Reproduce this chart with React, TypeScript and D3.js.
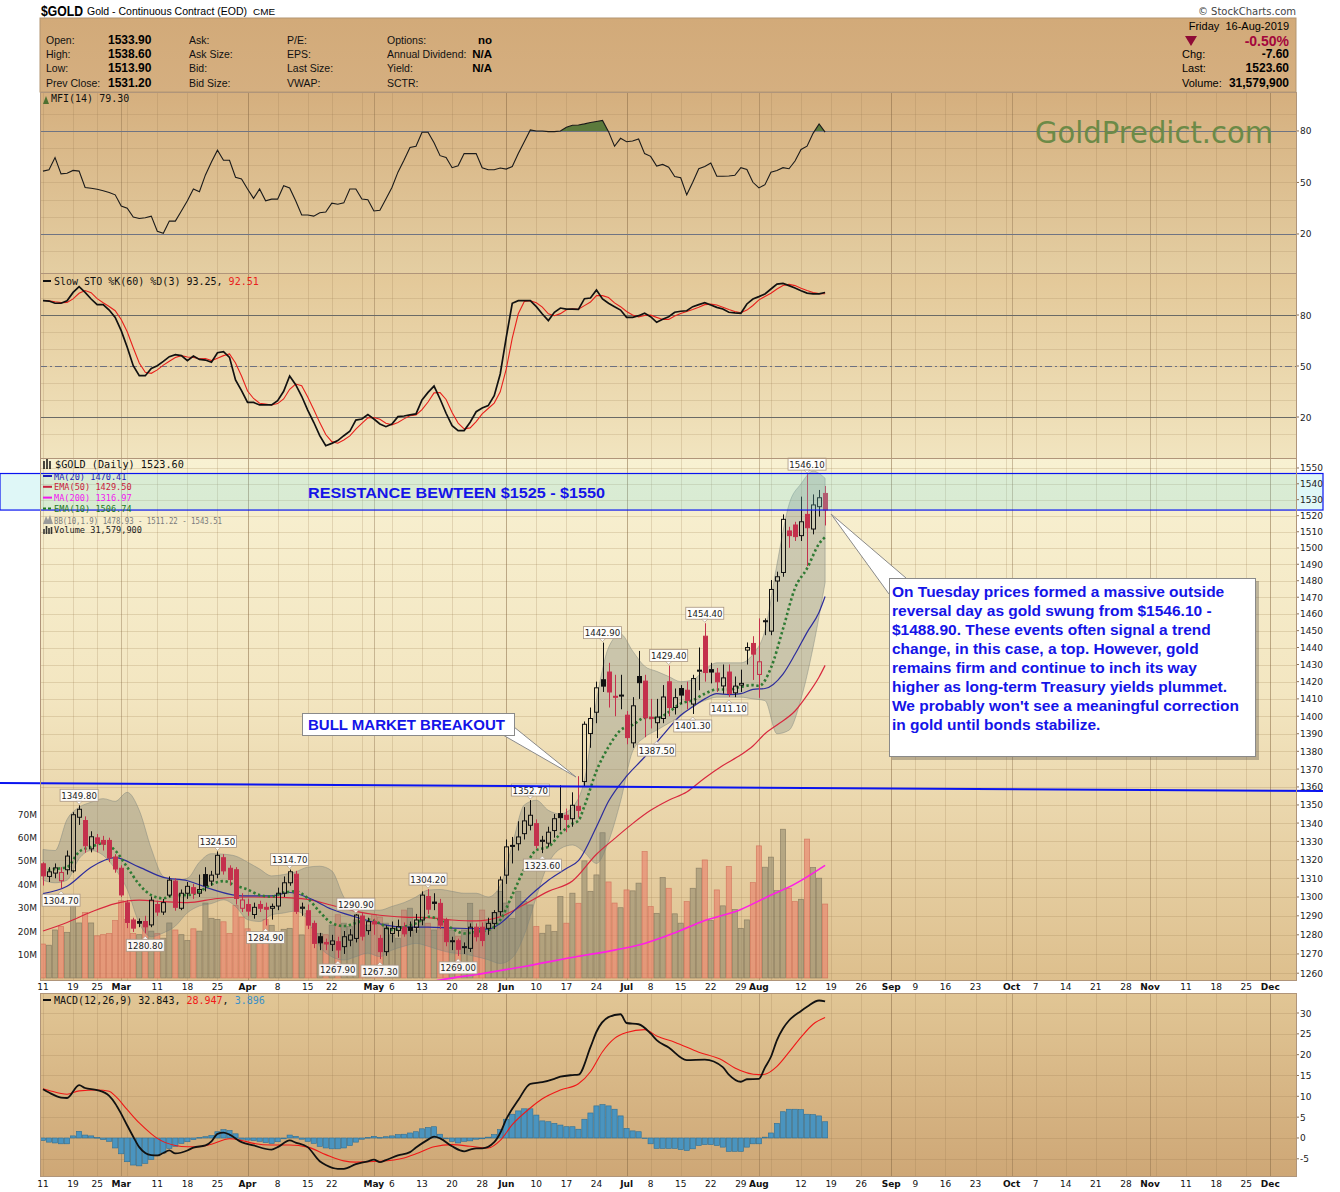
import { useEffect, useRef } from 'react';
import * as d3 from 'd3';

// ---- calendar ----
const FIRST_DAY = '2019-02-11';
const HOLIDAYS = ['2019-02-18', '2019-04-19', '2019-05-27', '2019-07-04', '2019-09-02', '2019-11-28'];

// ---- daily prices, Feb 11 .. Aug 16 2019 ----
const opens = [
  1317.8, 1311.0, 1312.8, 1308.7, 1314.6, 1314.0, 1343.2, 1341.4, 1325.9, 1331.9,
  1330.5, 1330.5, 1321.5, 1315.4, 1296.9, 1287.8, 1287.0, 1287.0, 1285.2, 1296.0,
  1292.0, 1301.0, 1308.5, 1294.0, 1302.0, 1305.0, 1302.0, 1312.0, 1308.5, 1312.2,
  1321.1, 1315.4, 1314.6, 1294.0, 1296.0, 1290.7, 1296.0, 1294.5, 1294.0, 1295.2,
  1302.0, 1307.6, 1312.2, 1294.0, 1292.7, 1286.0, 1279.0, 1276.0, 1275.0, 1276.4,
  1273.8, 1277.2, 1278.1, 1289.9, 1282.2, 1286.9, 1278.1, 1271.2, 1280.7, 1282.3,
  1284.0, 1284.0, 1283.9, 1287.8, 1300.2, 1297.3, 1296.6, 1287.8, 1276.5, 1276.9,
  1273.5, 1272.9, 1284.0, 1284.0, 1283.4, 1286.0, 1292.2, 1311.7, 1327.8, 1328.7,
  1334.2, 1338.8, 1339.7, 1330.0, 1329.0, 1335.9, 1345.2, 1344.3, 1342.4, 1349.2,
  1363.0, 1390.1, 1402.3, 1421.1, 1425.6, 1411.5, 1412.0, 1400.6, 1384.8, 1423.0,
  1420.3, 1399.4, 1396.3, 1398.7, 1419.9, 1405.0, 1416.0, 1415.0, 1407.0, 1426.7,
  1446.7, 1427.0, 1425.0, 1417.5, 1425.6, 1413.5, 1418.0, 1438.5, 1442.4, 1424.2,
  1455.9, 1449.7, 1479.8, 1485.0, 1510.5, 1514.2, 1507.6, 1520.8, 1511.7, 1525.6, 1533.9,
];
const highs = [
  1318.7, 1316.0, 1318.0, 1316.0, 1325.0, 1346.0, 1349.8, 1343.7, 1335.5, 1334.0,
  1333.0, 1332.0, 1323.0, 1317.0, 1298.4, 1289.0, 1288.6, 1290.0, 1300.2, 1298.0,
  1299.0, 1311.0, 1310.0, 1304.0, 1308.0, 1307.0, 1312.0, 1316.0, 1314.0, 1324.5,
  1323.0, 1317.0, 1316.0, 1302.0, 1299.0, 1297.0, 1298.0, 1297.0, 1296.5, 1305.0,
  1311.0, 1314.7, 1314.0, 1297.0, 1296.0, 1287.5, 1281.0, 1278.0, 1280.0, 1279.0,
  1282.0, 1283.0, 1290.9, 1292.0, 1289.0, 1288.5, 1280.0, 1285.0, 1287.0, 1288.0,
  1286.5, 1287.0, 1291.0, 1303.0, 1304.2, 1302.0, 1299.0, 1289.0, 1279.0, 1278.0,
  1276.0, 1286.0, 1286.0, 1286.5, 1289.0, 1293.0, 1311.0, 1331.0, 1332.4, 1341.0,
  1348.8, 1352.7, 1342.0, 1333.0, 1338.0, 1345.0, 1361.0, 1348.0, 1357.0, 1366.0,
  1397.0, 1405.0, 1420.0, 1442.9, 1431.0, 1424.0, 1424.0, 1403.0, 1411.0, 1438.0,
  1424.0, 1410.0, 1410.0, 1418.0, 1429.4, 1416.0, 1418.0, 1420.0, 1424.0, 1440.0,
  1454.4, 1431.0, 1428.0, 1430.0, 1430.0, 1423.0, 1427.0, 1443.0, 1446.7, 1457.3,
  1457.3, 1480.4, 1485.5, 1520.8, 1513.1, 1516.2, 1531.9, 1546.1, 1533.3, 1536.1, 1538.6,
];
const lows = [
  1306.1, 1308.0, 1310.0, 1304.7, 1312.0, 1313.0, 1339.0, 1323.8, 1324.0, 1324.0,
  1325.0, 1318.7, 1313.0, 1300.0, 1283.5, 1281.5, 1284.0, 1280.8, 1284.0, 1290.0,
  1290.5, 1300.0, 1292.7, 1293.0, 1299.0, 1299.0, 1300.0, 1303.0, 1306.0, 1310.0,
  1312.0, 1306.0, 1296.0, 1292.0, 1290.0, 1288.5, 1292.0, 1284.9, 1288.0, 1293.0,
  1300.0, 1306.0, 1291.0, 1290.0, 1283.0, 1273.0, 1272.0, 1272.0, 1271.5, 1267.9,
  1270.0, 1274.0, 1276.0, 1277.0, 1280.0, 1280.0, 1267.3, 1269.0, 1276.0, 1279.0,
  1279.0, 1279.0, 1281.0, 1285.0, 1291.0, 1293.0, 1283.0, 1274.0, 1272.0, 1269.0,
  1270.0, 1271.0, 1276.5, 1274.0, 1280.0, 1283.0, 1290.0, 1307.0, 1318.0, 1325.0,
  1331.0, 1336.0, 1326.0, 1323.6, 1327.0, 1332.0, 1336.0, 1335.0, 1338.0, 1343.0,
  1360.0, 1382.0, 1396.0, 1414.0, 1405.0, 1400.0, 1404.0, 1384.0, 1382.0, 1410.0,
  1388.0, 1393.0, 1387.5, 1396.0, 1400.0, 1401.0, 1407.0, 1404.0, 1401.3, 1415.0,
  1420.0, 1419.0, 1414.0, 1413.0, 1411.1, 1411.0, 1414.0, 1430.0, 1421.0, 1410.6,
  1447.3, 1447.3, 1467.3, 1482.4, 1500.1, 1504.3, 1504.3, 1488.9, 1508.4, 1519.4, 1513.9,
];
const closes = [
  1311.3, 1313.5, 1315.6, 1313.1, 1322.0, 1344.6, 1347.6, 1327.6, 1332.5, 1328.9,
  1328.5, 1321.0, 1315.0, 1301.1, 1286.5, 1283.5, 1286.1, 1284.2, 1298.3, 1292.0,
  1297.0, 1309.0, 1294.5, 1302.0, 1305.7, 1302.0, 1304.0, 1306.1, 1311.7, 1322.4,
  1314.0, 1309.4, 1299.2, 1298.4, 1292.5, 1294.5, 1294.0, 1293.5, 1295.0, 1302.0,
  1307.6, 1313.5, 1292.4, 1294.6, 1285.1, 1275.5, 1275.8, 1275.2, 1276.8, 1272.1,
  1279.0, 1279.9, 1290.4, 1279.3, 1286.9, 1285.7, 1271.2, 1283.4, 1283.4, 1284.3,
  1280.5, 1282.3, 1287.8, 1301.0, 1293.5, 1296.6, 1285.1, 1276.4, 1276.9, 1272.4,
  1273.8, 1284.0, 1279.0, 1277.0, 1286.0, 1291.7, 1309.1, 1327.0, 1327.5, 1332.4,
  1341.2, 1344.3, 1327.8, 1330.6, 1335.0, 1342.4, 1343.0, 1342.0, 1349.8, 1347.0,
  1395.4, 1398.7, 1416.4, 1417.4, 1414.0, 1411.2, 1412.2, 1387.8, 1406.0, 1419.4,
  1399.1, 1398.8, 1399.5, 1411.1, 1405.0, 1410.7, 1412.2, 1409.2, 1421.8, 1426.5,
  1425.3, 1425.6, 1419.9, 1422.2, 1413.1, 1417.4, 1419.0, 1440.0, 1436.1, 1431.6,
  1455.5, 1474.7, 1482.4, 1517.7, 1507.6, 1507.0, 1516.2, 1512.5, 1526.7, 1531.2, 1523.6,
];
// volume, millions of contracts
const volumes = [
  14.5, 14, 20.5, 22, 19.5, 31, 23.5, 28, 23.5, 18,
  18.5, 19, 24.5, 33, 25, 19, 18.5, 23, 20, 19,
  17, 23.5, 20.5, 18.5, 16, 21, 20, 32, 25.5, 25,
  24, 19, 31, 26, 21, 15.5, 18, 25, 22.5, 19.8,
  20.8, 21.2, 36, 18.4, 27.6, 21.5, 19, 18.5, 22.6, 27,
  23.4, 22, 24.8, 24.8, 22.6, 27, 26, 23.4, 18.4, 17,
  29, 29.8, 20.5, 24.8, 23.4, 20.5, 24.8, 23.4, 20.5, 17.7,
  20.5, 31.9, 19, 29, 24, 28, 37, 32, 25.5, 37,
  32.6, 31.2, 22, 19.1, 22.6, 19.8, 34.8, 23.4, 36.2, 31.9,
  50, 37, 44, 62, 41, 32, 30, 37.6, 37.2, 40.5,
  54, 30.5, 27.6, 42.9, 38.3, 27.4, 23.4, 32.6, 38.3, 46.9,
  50.4, 24.5, 37.6, 30.8, 47.6, 29.3, 21.2, 24.8, 40.7, 56.4,
  47.3, 51.6, 37.3, 63.5, 38.3, 32.6, 33.6, 59.3, 47.2, 42.6, 31.58,
];

// ---- overlays on price: [day index, value] ----
const ma20: [number, number][] = [
  [0, 1301.8], [4, 1305.7], [8, 1316], [12, 1321.1], [16, 1316], [20, 1310.5], [24, 1308.7],
  [28, 1304.2], [33, 1300.6], [38, 1300.6], [41, 1302.4], [44, 1299.7], [48, 1293.5],
  [52, 1289.4], [56, 1285.8], [60, 1284], [64, 1284], [68, 1283.5], [72, 1283.2], [74, 1283],
  [76, 1286], [79, 1294.8], [82, 1303.7], [84, 1309], [87, 1315.3], [89, 1319.5], [92, 1338],
  [94, 1352], [97, 1366], [100, 1376.8], [103, 1389], [106, 1400.6], [108, 1405.4], [110, 1410],
  [112, 1413], [114, 1412.5], [116, 1413], [118, 1415.5], [120, 1416], [123, 1424.4],
  [125, 1436], [127, 1449], [129, 1461], [130, 1470.4],
];
const ema50: [number, number][] = [
  [0, 1282], [4, 1286.5], [8, 1292], [12, 1296.5], [16, 1298.3], [20, 1297.5], [24, 1297],
  [29, 1299.2], [34, 1300], [39, 1299.8], [44, 1298.7], [48, 1295.6], [52, 1292.4], [56, 1290.3],
  [60, 1289.3], [64, 1289], [68, 1287.8], [72, 1287.3], [76, 1289.5], [80, 1296], [84, 1303],
  [88, 1308.5], [92, 1323], [95, 1331.5], [98, 1339.7], [101, 1347], [104, 1352.6], [107, 1357.2],
  [110, 1365], [113, 1372], [116, 1378], [118, 1383], [120, 1390], [122, 1395], [125, 1403],
  [127, 1412], [129, 1422.7], [130, 1429.5],
];
const ma200: [number, number][] = [
  [62, 1254], [66, 1256.5], [73, 1259.8], [80, 1263.5], [89, 1268.8], [95, 1272], [100, 1275.5],
  [105, 1281], [110, 1287.5], [116, 1293.4], [120, 1299.5], [125, 1307], [130, 1317],
];
const ema10: [number, number][] = [
  [0, 1314], [2, 1315], [4, 1316], [6, 1324.3], [8, 1327], [10, 1328.9], [12, 1325], [14, 1316],
  [16, 1306.7], [18, 1301], [20, 1299.3], [22, 1301], [24, 1301], [26, 1303], [28, 1306.7],
  [30, 1308.5], [32, 1306.1], [34, 1304], [36, 1301], [38, 1300.2], [40, 1302.4], [42, 1303],
  [44, 1299.3], [46, 1292.1], [48, 1286.2], [50, 1284.6], [52, 1286.2], [54, 1288], [56, 1286],
  [58, 1282.5], [60, 1284.2], [62, 1286], [64, 1289.5], [66, 1287.8], [68, 1283.4], [70, 1280.7],
  [72, 1281.6], [74, 1282.5], [76, 1287.8], [78, 1301], [80, 1315], [82, 1325.2], [84, 1327],
  [86, 1334.2], [88, 1339.7], [89, 1341.3], [90, 1349.4], [92, 1369], [94, 1382.5], [96, 1392],
  [98, 1395], [100, 1399], [102, 1399], [104, 1402.3], [106, 1407.3], [108, 1409.2], [110, 1413],
  [112, 1415.4], [114, 1415.4], [116, 1417], [118, 1418], [119, 1417.5], [121, 1428], [123, 1451],
  [125, 1475.5], [127, 1487.5], [129, 1502.6], [130, 1506.7],
];
// Bollinger bands, every second day (index = 2 * position)
const bbUpper = [
  1325.6, 1325, 1342, 1348.7, 1351.5, 1353.5, 1352, 1357, 1347, 1326, 1311, 1309, 1310, 1318.7,
  1323.3, 1323, 1322, 1318.7, 1315, 1311.3, 1312, 1313.5, 1316, 1316.5, 1314, 1300, 1292.6, 1293,
  1293, 1295, 1297, 1300, 1303.7, 1304, 1303, 1302, 1302, 1300, 1306, 1328, 1350, 1352.6, 1347,
  1345, 1348.8, 1364, 1409, 1440, 1448, 1438, 1429, 1426, 1423, 1420, 1421, 1427, 1431, 1431,
  1431, 1436, 1450, 1490, 1527, 1540, 1548, 1543.5,
];
const bbLower = [
  1309, 1307.6, 1309, 1320.6, 1325, 1322.4, 1315, 1304, 1286, 1279, 1281, 1284.6, 1291.6, 1295.2,
  1296.5, 1298.5, 1295, 1288, 1287, 1290.5, 1291.5, 1292.5, 1288, 1274, 1268.6, 1266.8, 1268.6,
  1270.4, 1268.6, 1272, 1274, 1275.5, 1274, 1272, 1270.5, 1270, 1268.6, 1267, 1265, 1268, 1280,
  1300, 1318, 1326, 1328, 1324, 1318, 1330, 1352, 1380, 1388, 1392, 1396, 1400, 1406, 1409, 1411,
  1411, 1411, 1410, 1409, 1390, 1392, 1410, 1440, 1478.9,
];

// ---- indicators ----
const mfiValues = [
  56.6, 57.4, 64.5, 55, 55.4, 57, 56.6, 47.1, 46.6, 46,
  45.2, 44.2, 42.8, 36.3, 35, 29.8, 29, 29.4, 30.4, 21.6,
  20.4, 27.5, 27.5, 33.4, 39.3, 46.2, 44.6, 54.4, 61.9, 68.8,
  62.9, 62.9, 53, 52, 46.2, 40.7, 46.2, 39.3, 40.3, 40.3,
  48.1, 46.8, 39.3, 31, 31, 30.4, 32.4, 32.8, 37.9, 37.3,
  38.1, 46.2, 46.2, 40.3, 39.9, 33.4, 33.8, 40.3, 47.1, 56,
  62.9, 70.4, 71.1, 79.2, 79.2, 73.1, 65.6, 64.5, 58.6, 59.7,
  66.8, 66.8, 66.8, 58.6, 57.4, 57.4, 58.4, 57.8, 59.3, 66.8,
  73.7, 80.6, 80, 80, 79.6, 79.6, 80, 82.2, 83.3, 83.5,
  84.1, 84.9, 85.5, 86.1, 79.6, 71.1, 75.7, 73.7, 74.1, 75.3,
  66.8, 65.2, 59.5, 60.5, 58.9, 53.4, 52.7, 42.8, 50.1, 58,
  59.3, 61.3, 53.6, 53.6, 53.8, 54.2, 58.6, 57.6, 50.1, 46.8,
  48.7, 56, 57, 58.6, 58, 62.5, 69.2, 71.1, 78.6, 84.1, 79.3,
];
const stoK = [
  88.4, 88.2, 86.9, 86.9, 88.4, 93.3, 96.7, 93.3, 89.4, 86.1,
  86.1, 82.9, 78.6, 70.8, 61, 50.2, 44.3, 44.3, 48.6, 50.2,
  52.7, 55.5, 56.7, 56.1, 53.1, 55.9, 53.9, 53.5, 52.2, 57.8,
  58.4, 55.1, 41.8, 35.5, 28.6, 28.6, 27.1, 27.1, 27.1, 29.6,
  35.1, 44.1, 39, 32.2, 24.1, 16.9, 9, 3.1, 4.5, 6.1,
  9, 11.6, 18.2, 18.8, 21.4, 18.8, 15.9, 14.3, 15.9, 20.2,
  20.6, 21.2, 21.8, 30, 34.5, 38.2, 30.6, 22.2, 14.9, 12,
  12, 16.9, 23.1, 25.3, 26.7, 32.5, 45.3, 66.9, 86.9, 88.4,
  88.4, 88.4, 84.9, 80.6, 76.7, 81.6, 84.1, 83.5, 83.5, 83.3,
  89.6, 90, 94.7, 89.4, 86.9, 84.9, 82.9, 78.6, 78.6, 79.6,
  81, 79, 75.7, 77.5, 79, 81.6, 82.2, 82.5, 84.9, 86.1,
  87.3, 85.9, 84.5, 83.5, 81.6, 81.2, 81, 86.5, 89.4, 90.8,
  92.4, 95.3, 98.2, 98.6, 97.3, 95.9, 94.3, 92.9, 92.4, 92.4, 93.25,
];
const stoD = [
  88.5, 88.4, 87.8, 87.3, 87.4, 89.5, 92.8, 94.4, 93.1, 89.6,
  87.2, 85, 82.5, 77.4, 70.1, 60.7, 51.8, 46.3, 45.7, 47.7,
  50.5, 52.8, 55, 56.1, 55.3, 55, 54.3, 54.4, 53.2, 54.5,
  56.1, 57.1, 51.8, 44.1, 35.3, 30.9, 28.1, 27.6, 27.1, 27.9,
  30.6, 36.3, 39.4, 38.4, 31.8, 24.4, 16.7, 9.7, 5.5, 4.6,
  6.5, 8.9, 12.9, 16.2, 19.5, 19.7, 18.7, 16.3, 15.4, 16.8,
  18.9, 20.7, 21.2, 24.3, 28.8, 34.2, 34.4, 30.3, 22.6, 16.4,
  13, 13.6, 17.3, 21.8, 25, 28.2, 34.8, 48.2, 66.4, 80.7,
  87.9, 88.4, 87.2, 84.6, 80.7, 79.6, 80.8, 83.1, 83.7, 83.4,
  85.5, 87.6, 91.4, 91.4, 90.3, 87.1, 84.9, 82.1, 80, 78.9,
  79.7, 79.9, 78.6, 77.4, 77.4, 79.4, 80.9, 82.1, 83.2, 84.5,
  86.1, 86.4, 85.9, 84.6, 83.2, 82.1, 81.3, 82.9, 85.6, 88.9,
  90.9, 92.8, 95.3, 97.4, 98, 97.3, 95.8, 94.4, 93.2, 92.6, 92.51,
];
const macdHist = [
  -0.6, -1, -1.2, -1.4, -1.4, 0.5, 1.6, 0.7, 0.5, 0.1,
  -0.4, -0.8, -2.4, -3.8, -5.7, -6.5, -6.7, -6.1, -5.2, -4.3,
  -3.6, -2.5, -2, -1.3, -0.9, -0.4, 0.1, 0.3, 0.6, 1.5,
  2, 1.8, 1, -0.3, -0.5, -0.6, -0.8, -1.1, -1.3, -0.9,
  -0.2, 0.7, 0.4, -0.3, -0.8, -1.3, -2, -2.4, -2.6, -2.6,
  -2.4, -1.8, -1, -0.3, 0.1, 0.4, 0.1, 0.3, 0.5, 0.8,
  0.9, 1.2, 1.5, 2.2, 2.5, 2.7, 0.9, -0.2, -0.8, -1.2,
  -0.8, -0.7, -0.3, -0.2, 0.2, 0.8, 2, 4.5, 5.7, 6.5,
  7, 7, 5.5, 4.1, 3.9, 3.5, 3.1, 2.7, 2.7, 2.1,
  4.5, 6, 7.7, 8, 7.7, 6.9, 5.3, 2.3, 1.7, 1.5,
  -0.1, -1.4, -2.5, -2.5, -2.5, -2.5, -2.8, -3, -2.6, -1.8,
  -1.6, -1.6, -1.8, -2.2, -3.2, -3.2, -3.2, -2.2, -1.4, -1.4,
  0.2, 1.2, 3.5, 6.3, 6.9, 6.9, 6.8, 5.7, 5.6, 5.3, 3.896,
];
const macdLine: [number, number][] = [
  [0, 11.7], [1, 10.9], [3, 9.7], [4, 9.6], [6, 12.7], [7, 12], [9, 11.5], [11, 10.1], [12, 8.3],
  [13, 5.8], [14, 3], [15, 0.3], [16, -2.2], [17, -3.6], [18, -4.1], [19, -4.2], [20, -3.6],
  [21, -3], [22, -3.7], [24, -3], [25, -2.3], [27, -1.8], [28, -0.8], [29, 1], [30, 1.3], [31, 0.8],
  [33, -1], [35, -1.8], [38, -2.8], [39, -2.2], [41, -0.6], [42, -1.1], [44, -2.2], [46, -5.6],
  [47, -6.5], [49, -7.4], [50, -7.4], [52, -6.3], [54, -5.6], [55, -5.2], [56, -5.8], [57, -5.3],
  [59, -4.2], [61, -3.4], [62, -2.3], [64, -0.4], [65, 0.3], [66, -0.1], [68, -2], [70, -3.2],
  [71, -2.8], [72, -2.5], [73, -2.5], [75, -1], [76, 1.2], [77, 4.5], [79, 9.1], [81, 13],
  [83, 13.4], [85, 14.2], [86, 14.7], [88, 15.1], [89, 15.2], [91, 21.8], [92, 25.5], [94, 29],
  [96, 29.7], [97, 27.6], [99, 27.3], [101, 25.1], [102, 23.5], [104, 21.7], [107, 18.7],
  [110, 18.8], [113, 17], [114, 15.2], [116, 13.5], [117, 14.1], [119, 14.2], [120, 16.9],
  [121, 19.5], [122, 23.5], [123, 26.3], [124, 28.2], [126, 30.5], [127, 31.5], [129, 33], [130, 32.8],
];
const macdSignal: [number, number][] = [
  [0, 11.8], [1, 11.4], [4, 10.5], [6, 11.3], [9, 11.5], [11, 11.2], [12, 10.1], [14, 6.8],
  [16, 3.6], [18, 1], [19, -0.1], [22, -1.8], [24, -2.1], [26, -2.1], [28, -1.5], [31, -0.2],
  [33, -0.6], [35, -1.3], [38, -1.7], [41, -1.7], [44, -2.2], [47, -4], [50, -5.5], [52, -5.8],
  [56, -5.6], [60, -4.8], [62, -3.8], [65, -2.1], [68, -1.6], [71, -2], [74, -2.4], [76, -0.6],
  [78, 3.2], [81, 7.2], [83, 9.4], [86, 11.5], [89, 13], [91, 15.9], [93, 20.7], [95, 23.9],
  [97, 25.3], [100, 26], [102, 24.5], [105, 23], [109, 20.6], [113, 18.6], [115, 16.8],
  [119, 15.2], [120, 15.3], [122, 17.2], [124, 20.6], [126, 24.2], [128, 27.3], [130, 28.9],
];

// ---- axes and labels ----
const priceTicks = d3.range(1260, 1551, 10);
const volumeTicks = [10, 20, 30, 40, 50, 60, 70];
const oscTicks = [20, 50, 80];
const macdTicks = [-5, 0, 5, 10, 15, 20, 25, 30];
const MONTHS = ['Jan', 'Feb', 'Mar', 'Apr', 'May', 'Jun', 'Jul', 'Aug', 'Sep', 'Oct', 'Nov', 'Dec'];
// [day index, price, side]
const priceLabels: [number, number, string][] = [
  [6, 1349.8, 'up'], [3, 1304.7, 'down'], [17, 1280.8, 'down'], [29, 1324.5, 'up'],
  [41, 1314.7, 'up'], [37, 1284.9, 'down'], [52, 1290.9, 'up'], [49, 1267.9, 'down'],
  [56, 1267.3, 'down'], [64, 1304.2, 'up'], [69, 1269.0, 'down'], [81, 1352.7, 'up'],
  [83, 1323.6, 'down'], [93, 1442.9, 'up'], [102, 1387.5, 'down'], [104, 1429.4, 'up'],
  [108, 1401.3, 'down'], [110, 1454.4, 'up'], [114, 1411.1, 'down'], [127, 1546.1, 'up'],
];
const resistanceZone = [1523.5, 1546.5];
const breakoutLine = [1362.2, 1357.7];
const noteLines = [
  'On Tuesday prices formed a massive outside',
  'reversal day as gold swung from $1546.10 -',
  '$1488.90. These events often signal a trend',
  'change, in this case, a top. However, gold',
  'remains firm and continue to inch its way',
  'higher as long-term Treasury yields plummet.',
  "We probably won't see a meaningful correction",
  'in gold until bonds stabilize.',
];
const quoteLeft: [string, string][][] = [
  [['Open:', '1533.90'], ['High:', '1538.60'], ['Low:', '1513.90'], ['Prev Close:', '1531.20']],
  [['Ask:', ''], ['Ask Size:', ''], ['Bid:', ''], ['Bid Size:', '']],
  [['P/E:', ''], ['EPS:', ''], ['Last Size:', ''], ['VWAP:', '']],
  [['Options:', 'no'], ['Annual Dividend:', 'N/A'], ['Yield:', 'N/A'], ['SCTR:', '']],
];
const quoteRight: [string, string][] = [['Chg:', '-7.60'], ['Last:', '1523.60'], ['Volume:', '31,579,900']];

const MONO = "'DejaVu Sans Mono', monospace";
const SANS = "'DejaVu Sans', Verdana, sans-serif";
const ARIAL = "'Liberation Sans', Arial, sans-serif";
const RED = '#C4304C';
const BLACK = '#111';

function tradingDays(start: string, count: number) {
  const out: Date[] = [];
  const d = new Date(start + 'T00:00:00Z');
  while (out.length < count) {
    const dow = d.getUTCDay();
    const iso = d.toISOString().slice(0, 10);
    if (dow !== 0 && dow !== 6 && !HOLIDAYS.includes(iso)) out.push(new Date(d.getTime()));
    d.setUTCDate(d.getUTCDate() + 1);
  }
  return out;
}

export default function App() {
  const ref = useRef<SVGSVGElement>(null);

  useEffect(() => {
    if (!ref.current) return;
    const svg = d3.select(ref.current);
    svg.selectAll('*').remove();

    const L = 40, R = 1296;
    const P = {
      head: [18, 92], mfi: [92, 273], sto: [273, 458], price: [458, 980], macd: [993, 1176],
    };

    const x = d3.scaleLinear().domain([0, 130]).range([43, 825.1]);
    const yMfi = d3.scaleLinear().domain([0, 100]).range([268.3, 96.6]);
    const ySto = d3.scaleLinear().domain([0, 100]).range([451, 281]);
    const yPrice = d3.scaleLog().domain([1256.5, 1557]).range([980, 457]);
    const yVol = d3.scaleLinear().domain([0, 70]).range([978, 814]);
    const yMacd = d3.scaleLinear().domain([-5, 30]).range([1158.8, 1013]);

    // calendar ticks
    const days = tradingDays(FIRST_DAY, 212);
    const weekIdx: number[] = [];
    const monthIdx: number[] = [];
    const raw: { i: number; s: string; bold: boolean }[] = [];
    let lastMonth = -10;
    days.forEach((d, i) => {
      const p = i > 0 ? days[i - 1] : null;
      const newMonth = !!p && d.getUTCMonth() !== p.getUTCMonth();
      const newWeek = !p || d.getUTCDay() < p.getUTCDay() || (d.getTime() - p.getTime()) > 6 * 864e5;
      if (newMonth) {
        monthIdx.push(i);
        lastMonth = i;
        raw.push({ i, s: MONTHS[d.getUTCMonth()], bold: true });
      }
      if (newWeek) {
        weekIdx.push(i);
        if (!newMonth && i - lastMonth > 2) raw.push({ i, s: String(d.getUTCDate()), bold: false });
      }
    });
    // a week label just before a month label gives way to it
    const labels = raw.filter((t) => t.bold || !monthIdx.some((m) => m > t.i && m - t.i <= 2));

    const defs = svg.append('defs');
    const grad = (id: string, stops: [number, string][]) => {
      const g = defs.append('linearGradient').attr('id', id)
        .attr('x1', 0).attr('y1', 0).attr('x2', 0).attr('y2', 1);
      stops.forEach(([o, c]) => g.append('stop').attr('offset', o).attr('stop-color', c));
    };
    grad('gHead', [[0, '#D2AA79'], [1, '#D5AF80']]);
    grad('gMfi', [[0, '#D5AF7E'], [1, '#E4CEA2']]);
    grad('gSto', [[0, '#E3C898'], [1, '#F1E4BF']]);
    grad('gPrice', [[0, '#F8F1D2'], [0.45, '#F3E6C1'], [1, '#DDBF8D']]);
    grad('gMacd', [[0, '#E1C695'], [1, '#CEA776']]);
    const clip = (id: string, y0: number, y1: number) =>
      defs.append('clipPath').attr('id', id).append('rect')
        .attr('x', L).attr('y', y0).attr('width', R - L).attr('height', y1 - y0);
    clip('cMfi', P.mfi[0], P.mfi[1]);
    clip('cSto', P.sto[0], P.sto[1]);
    clip('cPrice', P.price[0], P.price[1]);
    clip('cMacd', P.macd[0], P.macd[1]);
    defs.append('clipPath').attr('id', 'cOver80').append('rect')
      .attr('x', L).attr('y', P.mfi[0]).attr('width', R - L).attr('height', yMfi(80) - P.mfi[0]);

    const text = (g: any, tx: number, ty: number, s: string, o: Record<string, any> = {}) => {
      const t = g.append('text').attr('x', tx).attr('y', ty).text(s);
      Object.entries(o).forEach(([k, v]) => t.attr(k, v));
      return t;
    };

    svg.append('rect').attr('width', 1340).attr('height', 1192).attr('fill', '#fff');

    // ---------- title and quote box ----------
    text(svg, 41, 16, '$GOLD', { 'font-family': ARIAL, 'font-size': 14, 'font-weight': 'bold', textLength: 42, lengthAdjust: 'spacingAndGlyphs' });
    text(svg, 87, 15, 'Gold - Continuous Contract (EOD)', { 'font-family': ARIAL, 'font-size': 10.5, textLength: 160, lengthAdjust: 'spacingAndGlyphs' });
    text(svg, 253, 15, 'CME', { 'font-family': ARIAL, 'font-size': 9, textLength: 22, lengthAdjust: 'spacingAndGlyphs' });
    text(svg, 1296, 15, '\u00A9 StockCharts.com', { 'font-family': SANS, 'font-size': 10, fill: '#444', 'text-anchor': 'end' });

    svg.append('rect').attr('x', L).attr('y', P.head[0]).attr('width', R - L).attr('height', P.head[1] - P.head[0])
      .attr('fill', 'url(#gHead)').attr('stroke', '#B39672');
    const rowsY = [44, 58, 72, 87];
    const colX = [46, 189, 287, 387];
    quoteLeft.forEach((col, c) => {
      col.forEach(([lab, val], r) => {
        text(svg, colX[c], rowsY[r], lab, { 'font-family': ARIAL, 'font-size': 10.5, fill: '#111' });
        if (val) {
          if (c === 0) text(svg, 108, rowsY[r], val, { 'font-family': ARIAL, 'font-size': 12, 'font-weight': 'bold' });
          else text(svg, 492, rowsY[r], val, { 'font-family': ARIAL, 'font-size': 11.5, 'font-weight': 'bold', 'text-anchor': 'end' });
        }
      });
    });
    text(svg, 1289, 30, 'Friday  16-Aug-2019', { 'font-family': ARIAL, 'font-size': 11, 'text-anchor': 'end', 'xml:space': 'preserve' });
    text(svg, 1289, 46, '-0.50%', { 'font-family': ARIAL, 'font-size': 14, 'font-weight': 'bold', fill: '#A3063C', 'text-anchor': 'end' });
    svg.append('path').attr('d', 'M1185,36 L1197,36 L1191,46 Z').attr('fill', '#8E0A36');
    quoteRight.forEach(([lab, val], r) => {
      text(svg, 1182, rowsY[r + 1], lab, { 'font-family': ARIAL, 'font-size': 11 });
      text(svg, 1289, rowsY[r + 1], val, { 'font-family': ARIAL, 'font-size': 12, 'font-weight': 'bold', 'text-anchor': 'end' });
    });

    // ---------- shared panel pieces ----------
    const panelBg = (y0: number, y1: number, fill: string) =>
      svg.append('rect').attr('x', L).attr('y', y0).attr('width', R - L).attr('height', y1 - y0).attr('fill', fill);
    const vGrid = (g: any, y0: number, y1: number) => {
      weekIdx.forEach((i) => {
        const xx = Math.round(x(i)) + 0.5;
        if (xx > R) return;
        g.append('line').attr('x1', xx).attr('x2', xx).attr('y1', y0).attr('y2', y1)
          .attr('stroke', 'rgba(150,118,78,0.22)');
      });
      monthIdx.forEach((i) => {
        const xx = Math.round(x(i)) + 0.5;
        if (xx > R) return;
        g.append('line').attr('x1', xx).attr('x2', xx).attr('y1', y0).attr('y2', y1)
          .attr('stroke', 'rgba(130,100,66,0.38)');
      });
    };
    const hLine = (g: any, yy: number, stroke: string, extra: Record<string, any> = {}) => {
      const l = g.append('line').attr('x1', L).attr('x2', R).attr('y1', Math.round(yy) + 0.5).attr('y2', Math.round(yy) + 0.5)
        .attr('stroke', stroke);
      Object.entries(extra).forEach(([k, v]) => l.attr(k, v));
    };
    const rightLabels = (vals: number[], yS: (v: number) => number) => {
      vals.forEach((v) => {
        const yy = yS(v);
        svg.append('line').attr('x1', R).attr('x2', R + 3).attr('y1', yy).attr('y2', yy).attr('stroke', '#8A7258');
        text(svg, R + 4, yy + 3.5, String(v), { 'font-family': SANS, 'font-size': 9, fill: '#222' });
      });
    };
    const border = (y0: number, y1: number) =>
      svg.append('rect').attr('x', L + 0.5).attr('y', y0 + 0.5).attr('width', R - L).attr('height', y1 - y0)
        .attr('fill', 'none').attr('stroke', '#B0957A');
    const kp = (yS: any, curve: any = d3.curveMonotoneX) =>
      d3.line<[number, number]>().x((d) => x(d[0])).y((d) => yS(d[1])).curve(curve);

    // ---------- MFI ----------
    panelBg(P.mfi[0], P.mfi[1], 'url(#gMfi)');
    const gM = svg.append('g').attr('clip-path', 'url(#cMfi)');
    d3.range(10, 100, 10).forEach((v) => hLine(gM, yMfi(v), 'rgba(150,118,78,0.2)'));
    vGrid(gM, P.mfi[0], P.mfi[1]);
    hLine(gM, yMfi(80), '#6F7483');
    hLine(gM, yMfi(20), '#6F7483');
    const mfiPts: [number, number][] = mfiValues.map((v, i) => [i, v]);
    gM.append('path').datum(mfiPts).attr('clip-path', 'url(#cOver80)')
      .attr('d', d3.area<[number, number]>().x((d) => x(d[0])).y0(yMfi(80)).y1((d) => yMfi(d[1])))
      .attr('fill', '#5C7A3C');
    gM.append('path').datum(mfiPts).attr('d', kp(yMfi, d3.curveLinear)).attr('fill', 'none')
      .attr('stroke', '#1a1a1a').attr('stroke-width', 1.1);
    svg.append('path').attr('d', 'M43,104 L46,96 L49,104 Z').attr('fill', '#4E7030');
    text(svg, 51, 102, 'MFI(14) 79.30', { 'font-family': MONO, 'font-size': 10, fill: '#111' });
    rightLabels(oscTicks, yMfi);
    text(svg, 1035, 143, 'GoldPredict.com', { 'font-family': SANS, 'font-size': 30, fill: '#6C8A47', textLength: 238, lengthAdjust: 'spacingAndGlyphs' });
    border(P.mfi[0], P.mfi[1]);

    // ---------- Slow STO ----------
    panelBg(P.sto[0], P.sto[1], 'url(#gSto)');
    const gS = svg.append('g').attr('clip-path', 'url(#cSto)');
    d3.range(10, 100, 10).forEach((v) => hLine(gS, ySto(v), 'rgba(150,118,78,0.2)'));
    vGrid(gS, P.sto[0], P.sto[1]);
    hLine(gS, ySto(80), '#6A6A66');
    hLine(gS, ySto(20), '#6A6A66');
    hLine(gS, ySto(50), '#6C7080', { 'stroke-dasharray': '7,3,2,3' });
    gS.append('path').datum(stoD.map((v, i) => [i, v])).attr('d', kp(ySto, d3.curveLinear))
      .attr('fill', 'none').attr('stroke', '#E8201C').attr('stroke-width', 1.1);
    gS.append('path').datum(stoK.map((v, i) => [i, v])).attr('d', kp(ySto, d3.curveLinear))
      .attr('fill', 'none').attr('stroke', '#111').attr('stroke-width', 1.7);
    svg.append('rect').attr('x', 43).attr('y', 280).attr('width', 8).attr('height', 2).attr('fill', '#111');
    const sl = text(svg, 54, 285, '', { 'font-family': MONO, 'font-size': 10, fill: '#111' });
    sl.append('tspan').text('Slow STO %K(60) %D(3) 93.25, ');
    sl.append('tspan').attr('fill', '#E8201C').text('92.51');
    rightLabels(oscTicks, ySto);
    border(P.sto[0], P.sto[1]);

    // ---------- price ----------
    panelBg(P.price[0], P.price[1], 'url(#gPrice)');
    const gP = svg.append('g').attr('clip-path', 'url(#cPrice)');
    priceTicks.forEach((v) => hLine(gP, yPrice(v), 'rgba(160,128,84,0.24)'));
    vGrid(gP, P.price[0], P.price[1]);

    // volume
    volumes.forEach((v, i) => {
      const down = closes[i] < (i > 0 ? closes[i - 1] : opens[i]);
      const xx = x(i);
      gP.append('rect').attr('x', xx - 2.6).attr('width', 5.2).attr('y', yVol(v)).attr('height', yVol(0) - yVol(v))
        .attr('fill', down ? 'rgba(232,128,106,0.62)' : 'rgba(150,140,112,0.62)')
        .attr('stroke', down ? 'rgba(205,100,80,0.7)' : 'rgba(118,108,86,0.7)').attr('stroke-width', 0.7);
    });

    // bollinger band
    const bbPts = bbUpper.map((u, k) => ({ i: k * 2, u, l: bbLower[k] }));
    gP.append('path').datum(bbPts)
      .attr('d', d3.area<any>().x((d) => x(d.i)).y0((d) => yPrice(d.l)).y1((d) => yPrice(d.u)).curve(d3.curveMonotoneX))
      .attr('fill', 'rgba(118,128,122,0.33)').attr('stroke', 'rgba(120,128,124,0.55)').attr('stroke-width', 0.8);

    gP.append('path').datum(ma200).attr('d', kp(yPrice)).attr('fill', 'none').attr('stroke', '#FF1EE6').attr('stroke-width', 1.6);
    gP.append('path').datum(ema50).attr('d', kp(yPrice)).attr('fill', 'none').attr('stroke', '#D8283E').attr('stroke-width', 1.2);
    gP.append('path').datum(ma20).attr('d', kp(yPrice)).attr('fill', 'none').attr('stroke', '#2C2C9C').attr('stroke-width', 1.2);
    gP.append('path').datum(ema10).attr('d', kp(yPrice)).attr('fill', 'none').attr('stroke', '#2F7A34')
      .attr('stroke-width', 2.6).attr('stroke-dasharray', '2.4,2.6');

    // candles
    closes.forEach((c, i) => {
      const o = opens[i];
      const prev = i > 0 ? closes[i - 1] : o;
      const col = c < prev ? RED : BLACK;
      const filled = c < o;
      const xc = Math.round(x(i)) + 0.5;
      const yT = yPrice(Math.max(o, c));
      const yB = Math.max(yPrice(Math.min(o, c)), yT + 1);
      gP.append('line').attr('x1', xc).attr('x2', xc).attr('y1', yPrice(highs[i])).attr('y2', yT).attr('stroke', col);
      gP.append('line').attr('x1', xc).attr('x2', xc).attr('y1', yB).attr('y2', yPrice(lows[i])).attr('stroke', col);
      gP.append('rect').attr('x', xc - 2).attr('width', 4).attr('y', yT).attr('height', yB - yT)
        .attr('fill', filled ? col : 'none').attr('stroke', col).attr('stroke-width', 1);
    });

    // price labels
    priceLabels.forEach(([i, v, side]) => {
      const xc = x(i);
      const yy = yPrice(v);
      const up = side === 'up';
      const cy = up ? yy - 10 : yy + 12;
      const g = svg.append('g');
      const w = 38;
      g.append('rect').attr('x', xc - w / 2).attr('y', cy - 6).attr('width', w).attr('height', 12)
        .attr('fill', 'rgba(255,255,255,0.92)').attr('stroke', '#A89582').attr('stroke-width', 0.8);
      const tip = up ? `M${xc - 3},${cy + 6} L${xc},${cy + 9} L${xc + 3},${cy + 6} Z` : `M${xc - 3},${cy - 6} L${xc},${cy - 9} L${xc + 3},${cy - 6} Z`;
      g.append('path').attr('d', tip).attr('fill', 'rgba(255,255,255,0.92)').attr('stroke', '#A89582').attr('stroke-width', 0.6);
      text(g, xc, cy + 3.5, v.toFixed(2), { 'font-family': SANS, 'font-size': 8.6, fill: '#222', 'text-anchor': 'middle' });
    });

    // resistance zone and breakout line
    const zT = yPrice(resistanceZone[1]);
    const zB = yPrice(resistanceZone[0]);
    svg.append('rect').attr('x', 0).attr('y', zT).attr('width', 1323).attr('height', zB - zT)
      .attr('fill', 'rgba(127,223,223,0.25)').attr('stroke', '#0A14F0').attr('stroke-width', 1.2);
    svg.append('line').attr('x1', 0).attr('x2', 1323).attr('y1', yPrice(breakoutLine[0])).attr('y2', yPrice(breakoutLine[1]))
      .attr('stroke', '#0A14F0').attr('stroke-width', 2);
    text(svg, 308, 498, 'RESISTANCE BEWTEEN $1525 - $1550', { 'font-family': ARIAL, 'font-size': 15.5, 'font-weight': 'bold', fill: '#1414E8', textLength: 297, lengthAdjust: 'spacingAndGlyphs' });

    // legend
    svg.append('path').attr('d', 'M44,461 v8 M47,459 v10 M50,461 v8').attr('stroke', '#111').attr('stroke-width', 1.5);
    text(svg, 55, 468, '$GOLD (Daily) 1523.60', { 'font-family': MONO, 'font-size': 10.2, fill: '#111' });
    const leg: [string, string, boolean][] = [
      ['MA(20) 1470.41', '#1E1EB4', false], ['EMA(50) 1429.50', '#C8203C', false],
      ['MA(200) 1316.97', '#F018F0', false], ['EMA(10) 1506.74', '#1F7A1F', true],
    ];
    leg.forEach(([s, c, dashed], k) => {
      const yy = 476 + k * 10.8;
      svg.append('line').attr('x1', 43).attr('x2', 52).attr('y1', yy).attr('y2', yy).attr('stroke', c).attr('stroke-width', 2)
        .attr('stroke-dasharray', dashed ? '3,2' : null);
      text(svg, 54, yy + 3.5, s, { 'font-family': MONO, 'font-size': 8.6, fill: c });
    });
    svg.append('path').attr('d', 'M43,524 L46,516 L48,520 L50,515 L53,524 Z').attr('fill', '#9A9A9A');
    text(svg, 54, 523.5, 'BB(10,1.9) 1478.93 - 1511.22 - 1543.51', { 'font-family': MONO, 'font-size': 8.6, fill: '#7A7A7A', textLength: 168, lengthAdjust: 'spacingAndGlyphs' });
    svg.append('path').attr('d', 'M44,534 v-5 M46.5,534 v-8 M49,534 v-6 M51.5,534 v-7').attr('stroke', '#333').attr('stroke-width', 1.6);
    text(svg, 54, 533, 'Volume 31,579,900', { 'font-family': MONO, 'font-size': 8.6, fill: '#222' });

    // volume axis (left) and price axis (right)
    volumeTicks.forEach((v) => text(svg, 37, yVol(v) + 3.5, `${v}M`, { 'font-family': SANS, 'font-size': 9, fill: '#222', 'text-anchor': 'end' }));
    rightLabels(priceTicks, yPrice);
    border(P.price[0], P.price[1]);

    // annotation: bull market breakout
    svg.append('path').attr('d', 'M503,735 L514,727 L576,777 Z').attr('fill', '#fff').attr('stroke', '#8A8A8A');
    svg.append('rect').attr('x', 302.5).attr('y', 713.5).attr('width', 212).attr('height', 22)
      .attr('fill', '#fff').attr('stroke', '#8A8A8A');
    svg.append('path').attr('d', 'M504,734 L513,728').attr('stroke', '#fff').attr('stroke-width', 2);
    text(svg, 308, 730, 'BULL MARKET BREAKOUT', { 'font-family': ARIAL, 'font-size': 15, 'font-weight': 'bold', fill: '#1414E8', textLength: 197, lengthAdjust: 'spacingAndGlyphs' });

    // annotation: outside reversal note
    svg.append('rect').attr('x', 892).attr('y', 581).attr('width', 367).attr('height', 179).attr('fill', 'rgba(90,80,70,0.35)');
    svg.append('path').attr('d', 'M831,514 L889,594 L906,578 Z').attr('fill', '#fff').attr('stroke', '#8A8A8A');
    svg.append('rect').attr('x', 889.5).attr('y', 578.5).attr('width', 366).attr('height', 178)
      .attr('fill', '#fff').attr('stroke', '#8A8A8A');
    noteLines.forEach((s, k) => {
      text(svg, 892, 597 + k * 19, s, { 'font-family': ARIAL, 'font-size': 15.5, 'font-weight': 'bold', fill: '#1414E8' });
    });

    // ---------- x axis labels ----------
    const xLabels = (baseY: number) => {
      labels.forEach(({ i, s, bold }) => {
        const xx = x(i);
        if (xx > R - 4) return;
        text(svg, xx, baseY, s, {
          'font-family': SANS, 'font-size': 9, 'font-weight': bold ? 'bold' : 'normal',
          fill: '#111', 'text-anchor': 'middle',
        });
      });
    };
    xLabels(990);

    // ---------- MACD ----------
    panelBg(P.macd[0], P.macd[1], 'url(#gMacd)');
    const gD = svg.append('g').attr('clip-path', 'url(#cMacd)');
    macdTicks.forEach((v) => hLine(gD, yMacd(v), 'rgba(150,118,78,0.22)'));
    vGrid(gD, P.macd[0], P.macd[1]);
    macdHist.forEach((v, i) => {
      const y0 = yMacd(0), y1 = yMacd(v);
      gD.append('rect').attr('x', x(i) - 2.6).attr('width', 5.2).attr('y', Math.min(y0, y1)).attr('height', Math.max(0.6, Math.abs(y1 - y0)))
        .attr('fill', '#4A94BF').attr('stroke', '#2E6E94').attr('stroke-width', 0.6);
    });
    gD.append('path').datum(macdSignal).attr('d', kp(yMacd)).attr('fill', 'none').attr('stroke', '#F01818').attr('stroke-width', 1.1);
    gD.append('path').datum(macdLine).attr('d', kp(yMacd)).attr('fill', 'none').attr('stroke', '#111').attr('stroke-width', 1.8);
    svg.append('rect').attr('x', 43).attr('y', 999).attr('width', 8).attr('height', 2).attr('fill', '#111');
    const ml = text(svg, 54, 1004, '', { 'font-family': MONO, 'font-size': 10, fill: '#111' });
    ml.append('tspan').text('MACD(12,26,9) 32.843, ');
    ml.append('tspan').attr('fill', '#F01818').text('28.947');
    ml.append('tspan').text(', ');
    ml.append('tspan').attr('fill', '#3A90C8').text('3.896');
    rightLabels(macdTicks, yMacd);
    border(P.macd[0], P.macd[1]);
    xLabels(1187);
  }, []);

  return (
    <svg
      ref={ref}
      width={1340}
      height={1192}
      style={{ position: 'absolute', left: 0, top: 0, display: 'block' }}
    />
  );
}
